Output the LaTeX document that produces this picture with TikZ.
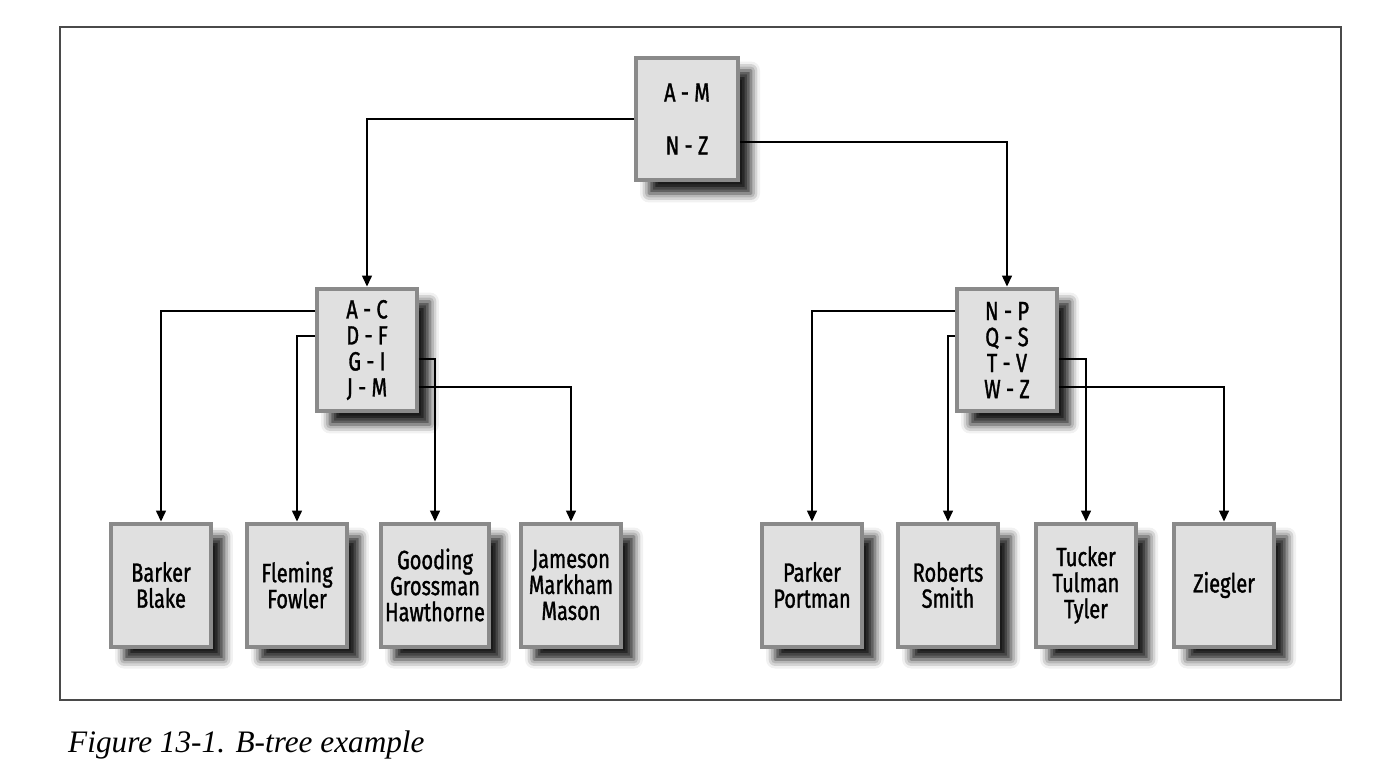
\documentclass[tikz,border=0pt]{standalone}
\usepackage{fontspec}
\setmainfont{Liberation Serif}
\newfontfamily\boxfont[FakeStretch=0.76,FakeBold=1.2]{Fira Sans}
\usepackage{xcolor}
\usepackage{tikz}
\usetikzlibrary{positioning,calc}
\usetikzlibrary{arrows.meta,shadows.blur}
\definecolor{boxFill}{HTML}{E0E0E0}
\definecolor{boxLine}{HTML}{8A8A8A}
\definecolor{frameLine}{HTML}{4A4A4A}
\tikzset{keybox/.style={rectangle,draw=boxLine,fill=boxFill,line width=0.08cm,
    minimum width=2.0cm,minimum height=2.46cm,inner sep=0pt,align=center,
    font=\boxfont\fontsize{15}{14.8}\selectfont,
    blur shadow={shadow xshift=0.26cm,shadow yshift=-0.26cm,
        shadow blur radius=0.18cm,shadow opacity=90}},
    link/.style={draw,line width=0.03cm,-{Triangle[length=0.22cm,width=0.2cm]}}
}

\begin{document}
\begin{tikzpicture}[x=0.02cm,y=-0.02cm]
      \useasboundingbox (0,0) rectangle (1392,768);
      \draw[frameLine,line width=0.03cm] (60,27) rectangle (1341,700);
      \node[keybox,minimum width=2.04cm] (root) at (687,119) {A - M\\[0.54cm]N - Z};
      \node[keybox] (left) at (367,350) {A - C\\D - F\\G - I\\J - M};
      \node[keybox] (right) at (1007,350) {N - P\\Q - S\\T - V\\W - Z};
      \node[keybox] (barker) at (161,585) {Barker\\Blake};
      \node[keybox] (fleming) at (297,585) {Fleming\\Fowler};
      \node[keybox,minimum width=2.16cm] (gooding) at (435,585) {Gooding\\Grossman\\Hawthorne};
      \node[keybox] (jameson) at (571,585) {Jameson\\Markham\\Mason};
      \node[keybox] (parker) at (812,585) {Parker\\Portman};
      \node[keybox] (roberts) at (948,585) {Roberts\\Smith};
      \node[keybox] (tucker) at (1086,585) {Tucker\\Tulman\\Tyler};
      \node[keybox] (ziegler) at (1224,585) {Ziegler};
      \node[anchor=base west,font=\itshape\fontsize{17.8}{20}\selectfont] (caption) at (62,752) {Figure 13-1. B-tree example};
      \draw[link] (root.west) -| (left.north);
      \draw[link] ($(root.east)+(0,23)$) -| (right.north);
      \draw[link] ($(left.west)+(0,-39)$) -| (barker.north);
      \draw[link] ($(left.west)+(0,-14)$) -| (fleming.north);
      \draw[link] ($(left.east)+(0,9)$) -| (gooding.north);
      \draw[link] ($(left.east)+(0,37)$) -| (jameson.north);
      \draw[link] ($(right.west)+(0,-39)$) -| (parker.north);
      \draw[link] ($(right.west)+(0,-14)$) -| (roberts.north);
      \draw[link] ($(right.east)+(0,9)$) -| (tucker.north);
      \draw[link] ($(right.east)+(0,37)$) -| (ziegler.north);
    \end{tikzpicture}
\end{document}
